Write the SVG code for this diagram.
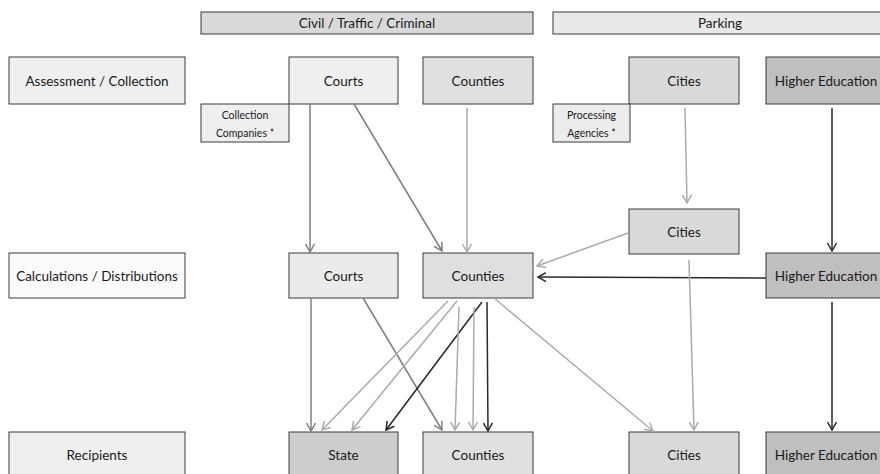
<svg xmlns="http://www.w3.org/2000/svg" width="880" height="474" viewBox="0 0 880 474">
<style>
text{font-family:Lato,"Liberation Sans",sans-serif;font-size:13.5px;fill:#1a1a1a;text-anchor:middle;dominant-baseline:central}
.sm{font-size:10.5px}
.b{stroke:#3a3a3a;stroke-width:1}
.c{fill:none;stroke-width:1.5}
.m{stroke:#7f7f7f}
.l{stroke:#ababab}
.d{stroke:#2a2a2a}
</style>
<defs>
<marker id="am" markerUnits="userSpaceOnUse" markerWidth="12" markerHeight="12" viewBox="0 0 12 12" refX="10" refY="6" orient="auto"><path d="M2,1.5 L10,6 L2,10.5" fill="none" stroke="#7f7f7f" stroke-width="1.5"/></marker>
<marker id="al" markerUnits="userSpaceOnUse" markerWidth="12" markerHeight="12" viewBox="0 0 12 12" refX="10" refY="6" orient="auto"><path d="M2,1.5 L10,6 L2,10.5" fill="none" stroke="#ababab" stroke-width="1.5"/></marker>
<marker id="ad" markerUnits="userSpaceOnUse" markerWidth="12" markerHeight="12" viewBox="0 0 12 12" refX="10" refY="6" orient="auto"><path d="M2,1.5 L10,6 L2,10.5" fill="none" stroke="#2a2a2a" stroke-width="1.5"/></marker>
</defs>
<g id="hdr-civil"><rect class="b" x="201" y="12" width="332" height="22" fill="#d9d9d9"/><text x="367" y="23">Civil / Traffic / Criminal</text></g>
<g id="hdr-parking"><rect class="b" x="553" y="12" width="334" height="22" fill="#e9e9e9"/><text x="720" y="23">Parking</text></g>

<g id="lbl-assess"><rect class="b" x="9" y="57" width="176" height="47" fill="#efefef"/><text x="97" y="80.5">Assessment / Collection</text></g>
<g id="lbl-calc"><rect class="b" x="9" y="253" width="176" height="45" fill="#fbfbfb"/><text x="97" y="275.5">Calculations / Distributions</text></g>
<g id="lbl-recip"><rect class="b" x="9" y="432" width="176" height="46" fill="#efefef"/><text x="97" y="455">Recipients</text></g>

<g id="courts1"><rect class="b" x="289" y="57" width="109" height="47" fill="#efefef"/><text x="343.5" y="80.5">Courts</text></g>
<g id="collection"><rect class="b" x="201" y="104" width="88" height="38" fill="#efefef"/><text class="sm" x="245" y="115">Collection</text><text class="sm" x="245" y="133">Companies *</text></g>
<g id="counties1"><rect class="b" x="423" y="57" width="110" height="47" fill="#e0e0e0"/><text x="478" y="80.5">Counties</text></g>
<g id="cities1"><rect class="b" x="629" y="57" width="110" height="47" fill="#d9d9d9"/><text x="684" y="80.5">Cities</text></g>
<g id="processing"><rect class="b" x="553" y="104" width="77" height="38" fill="#ececec"/><text class="sm" x="591.5" y="115">Processing</text><text class="sm" x="591.5" y="133">Agencies *</text></g>
<g id="highered1"><rect class="b" x="766" y="57" width="120" height="47" fill="#bfbfbf"/><text x="826" y="80.5">Higher Education</text></g>

<g id="citiesmid"><rect class="b" x="629" y="209" width="110" height="45" fill="#d9d9d9"/><text x="684" y="231.5">Cities</text></g>

<g id="courts2"><rect class="b" x="289" y="253" width="109" height="45" fill="#ebebeb"/><text x="343.5" y="275.5">Courts</text></g>
<g id="counties2"><rect class="b" x="423" y="253" width="110" height="45" fill="#dfdfdf"/><text x="478" y="275.5">Counties</text></g>
<g id="highered2"><rect class="b" x="766" y="253" width="120" height="45" fill="#bfbfbf"/><text x="826" y="275.5">Higher Education</text></g>

<g id="state"><rect class="b" x="289" y="432" width="109" height="46" fill="#cdcdcd"/><text x="343.5" y="455">State</text></g>
<g id="counties3"><rect class="b" x="423" y="432" width="110" height="46" fill="#e0e0e0"/><text x="478" y="455">Counties</text></g>
<g id="cities3"><rect class="b" x="629" y="432" width="110" height="46" fill="#d9d9d9"/><text x="684" y="455">Cities</text></g>
<g id="highered3"><rect class="b" x="766" y="432" width="120" height="46" fill="#bfbfbf"/><text x="826" y="455">Higher Education</text></g>

<g id="connectors">
<line class="c m" x1="310" y1="104" x2="310" y2="252" marker-end="url(#am)"/>
<line class="c m" x1="354" y1="104" x2="442" y2="251" marker-end="url(#am)"/>
<line class="c l" x1="467" y1="108" x2="467" y2="252" marker-end="url(#al)"/>
<line class="c l" x1="685" y1="108" x2="687" y2="203" marker-end="url(#al)"/>
<line class="c d" x1="832" y1="108" x2="832" y2="251" marker-end="url(#ad)"/>
<line class="c l" x1="628" y1="233" x2="537" y2="266" marker-end="url(#al)"/>
<line class="c d" x1="766" y1="278" x2="538" y2="277" marker-end="url(#ad)"/>
<line class="c l" x1="689" y1="260" x2="694" y2="430" marker-end="url(#al)"/>
<line class="c d" x1="832" y1="302" x2="832" y2="430" marker-end="url(#ad)"/>
<line class="c m" x1="311" y1="298" x2="311" y2="431" marker-end="url(#am)"/>
<line class="c m" x1="363" y1="298" x2="442" y2="430" marker-end="url(#am)"/>
<line class="c l" x1="448" y1="301" x2="322" y2="430" marker-end="url(#al)"/>
<line class="c l" x1="457" y1="301" x2="352" y2="430" marker-end="url(#al)"/>
<line class="c d" x1="482" y1="302" x2="386" y2="430" marker-end="url(#ad)"/>
<line class="c l" x1="459" y1="307" x2="455" y2="430" marker-end="url(#al)"/>
<line class="c l" x1="474" y1="307" x2="473" y2="430" marker-end="url(#al)"/>
<line class="c d" x1="487" y1="302" x2="488" y2="431" marker-end="url(#ad)"/>
<line class="c l" x1="494" y1="298" x2="653" y2="431" marker-end="url(#al)"/>
</g>
</svg>
